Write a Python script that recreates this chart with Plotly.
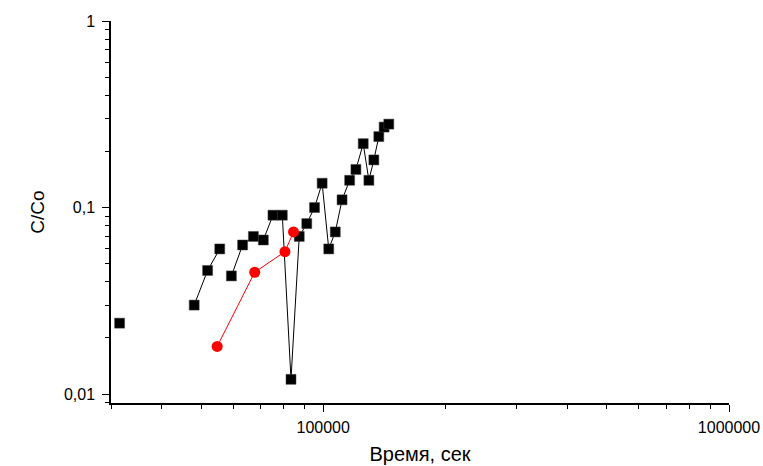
import math
import plotly.graph_objects as go

# Black series (None marks breaks in the line)
black_t = [31500, None, 48100, 51900, 55600, None, 59400, 63300, 67300, 71200,
           75200, 79300, 83300, 87300, 91100, 95200, 99400, 103200, 107100,
           111300, 116200, 120400, 125500, 129600, 133300, 137100, 141300, 145100]
black_c = [0.024, None, 0.030, 0.046, 0.060, None, 0.043, 0.063, 0.070, 0.067,
           0.091, 0.091, 0.012, 0.070, 0.082, 0.100, 0.135, 0.060, 0.074,
           0.110, 0.140, 0.160, 0.220, 0.140, 0.180, 0.240, 0.270, 0.280]

# Red series
red_t = [54800, 67800, 80500, 84500]
red_c = [0.018, 0.045, 0.058, 0.074]

x_major = [100000, 1000000]
x_major_text = ["100000", "1000000"]
y_major = [0.01, 0.1, 1]
y_major_text = ["0,01", "0,1", "1"]

x_minor = [m * 10 ** e for e in (4, 5) for m in range(2, 10) if 30000 <= m * 10 ** e <= 1000000]
y_minor = [m * 10 ** e for e in (-3, -2, -1) for m in range(2, 10) if 0.009 <= m * 10 ** e <= 1]

fig = go.Figure()
fig.add_trace(go.Scatter(
    x=black_t, y=black_c, mode="lines+markers", connectgaps=False,
    line=dict(color="black", width=1),
    marker=dict(symbol="square", size=10, color="black",
                line=dict(color="#444444", width=0.5)),
    showlegend=False))
fig.add_trace(go.Scatter(
    x=red_t, y=red_c, mode="lines+markers",
    line=dict(color="#ff0000", width=1),
    marker=dict(symbol="circle", size=11, color="#ff0000"),
    showlegend=False))

font = "Liberation Sans, Arial, sans-serif"
fig.update_layout(
    width=763, height=466,
    margin=dict(l=111, r=34, t=21, b=63),
    paper_bgcolor="white", plot_bgcolor="white",
    font=dict(family=font, color="black", size=16),
)
fig.update_xaxes(
    type="log", range=[math.log10(30000), 6], automargin=False,
    showgrid=False, zeroline=False,
    showline=True, linecolor="black", linewidth=1.5,
    ticks="outside", ticklen=7, tickwidth=1, tickcolor="black",
    tickvals=x_major, ticktext=x_major_text,
    tickfont=dict(size=16), ticklabelstandoff=2,
    minor=dict(tickvals=x_minor, ticks="outside", ticklen=4, tickwidth=1,
               tickcolor="black", showgrid=False),
    title=dict(text="Время, сек", font=dict(size=20), standoff=12),
)
fig.update_yaxes(
    type="log", range=[math.log10(0.009) - 0.002, 0], automargin=False,
    showgrid=False, zeroline=False,
    showline=True, linecolor="black", linewidth=1.5,
    ticks="outside", ticklen=7, tickwidth=1, tickcolor="black",
    tickvals=y_major, ticktext=y_major_text,
    tickfont=dict(size=16), ticklabelstandoff=4,
    minor=dict(tickvals=y_minor, ticks="outside", ticklen=4, tickwidth=1,
               tickcolor="black", showgrid=False),
    title=dict(text="C/Co", font=dict(size=19), standoff=14),
)

fig.write_html("out.html")
